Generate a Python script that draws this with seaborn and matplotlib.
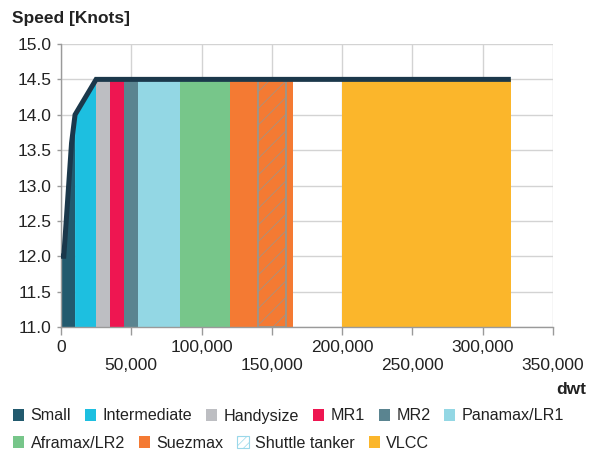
import numpy as np
import pandas as pd
import matplotlib
matplotlib.use("Agg")
import matplotlib.pyplot as plt
import seaborn as sns
from matplotlib.patches import Patch
from matplotlib.ticker import FixedLocator, FuncFormatter, MultipleLocator

# ---- data ----
classes = ["Small", "Intermediate", "Handysize", "MR1", "MR2", "Panamax/LR1",
           "Aframax/LR2", "Suezmax", "Shuttle tanker", "VLCC"]
dwt_start = [0, 10000, 25000, 35000, 45000, 55000, 85000, 120000, 140000, 200000]
dwt_end = [10000, 25000, 35000, 45000, 55000, 85000, 120000, 165000, 160000, 320000]
class_colors = ["#225a6e", "#1dbfe0", "#bdbec2", "#ee1651", "#5a8490", "#93d7e4",
                "#77c68a", "#f47a33", "none", "#fbb62b"]

speed_dwt = [0, 2000, 7500, 10000, 25000, 320000]
speed_knots = [12.0, 12.0, 13.6, 14.0, 14.5, 14.5]

# ---- style ----
sns.set_theme(style="white")
plt.rcParams["font.family"] = ["Liberation Sans", "DejaVu Sans"]
plt.rcParams["hatch.linewidth"] = 0.5

fig = plt.figure(figsize=(5.95, 4.55), dpi=100)
ax = fig.add_axes([61 / 595, 1 - 327 / 455, (553 - 61) / 595, (327 - 44) / 455])
ax.set_axisbelow(True)

line_df = pd.DataFrame({"dwt": speed_dwt, "speed": speed_knots})

for name, s, e, c in zip(classes, dwt_start, dwt_end, class_colors):
    xs = sorted(set([s, e] + [d for d in speed_dwt if s < d < e]))
    ys = np.interp(xs, speed_dwt, speed_knots)
    if name == "Shuttle tanker":
        ax.fill_between(xs, 11, ys, facecolor="none", edgecolor="#9a968c",
                        hatch="//", linewidth=1.3, zorder=3)
    else:
        ax.fill_between(xs, 11, ys, facecolor=c, edgecolor="none", linewidth=0, zorder=2)

sns.lineplot(data=line_df, x="dwt", y="speed", ax=ax, color="#1b384b", linewidth=3.6,
             sort=False, zorder=5, solid_capstyle="butt", solid_joinstyle="miter")

ax.set_xlim(0, 350000)
ax.set_ylim(11, 15)
ax.set_xlabel("")
ax.set_ylabel("")

fmt = FuncFormatter(lambda v, p: f"{int(v):,}")
ax.xaxis.set_major_locator(FixedLocator([0, 100000, 200000, 300000]))
ax.xaxis.set_minor_locator(FixedLocator([50000, 150000, 250000, 350000]))
ax.xaxis.set_major_formatter(fmt)
ax.xaxis.set_minor_formatter(fmt)
ax.yaxis.set_major_locator(MultipleLocator(0.5))
ax.yaxis.set_major_formatter(FuncFormatter(lambda v, p: f"{v:.1f}"))

tick_col = "#9a9a9a"
ax.tick_params(axis="x", which="major", length=6, width=1, color=tick_col, pad=3.0,
               labelsize=12.5, labelcolor="#222222", bottom=True)
ax.tick_params(axis="x", which="minor", length=6, width=1, color=tick_col, pad=16.6,
               labelsize=12.5, labelcolor="#222222", bottom=True)
ax.tick_params(axis="y", which="major", length=3, width=1, color=tick_col, pad=4,
               labelsize=12.5, labelcolor="#222222", left=True)

ax.grid(True, which="both", axis="x", color="#d3d3d3", linewidth=1)
ax.grid(True, which="major", axis="y", color="#d3d3d3", linewidth=1)
for side in ["top", "right"]:
    ax.spines[side].set_visible(False)
for side in ["left", "bottom"]:
    ax.spines[side].set_color(tick_col)
    ax.spines[side].set_linewidth(1)

fig.text(12 / 595, 1 - 18 / 455, "Speed [Knots]", fontsize=12.5, fontweight="bold",
         color="#222222", ha="left", va="center")
fig.text(586 / 595, 1 - 389 / 455, "dwt", fontsize=12.5, fontweight="bold",
         color="#222222", ha="right", va="center")

# legend
handles = []
for name, c in zip(classes, class_colors):
    if name == "Shuttle tanker":
        handles.append(Patch(facecolor="white", edgecolor="#9ad8ea", hatch="////",
                             linewidth=0.8, label=name))
    else:
        handles.append(Patch(facecolor=c, edgecolor="none", label=name))

common = dict(frameon=False, fontsize=11.6, handlelength=0.7, handleheight=0.7,
              handletextpad=0.4, columnspacing=0.85, borderpad=0, borderaxespad=0,
              loc="center left", labelcolor="#222222")
fig.legend(handles=handles[:6], ncol=6, bbox_to_anchor=(13 / 595, 1 - 416 / 455), **common)
fig.legend(handles=handles[6:], ncol=4, bbox_to_anchor=(13 / 595, 1 - 443 / 455), **common)

fig.savefig("out.png", dpi=100)
